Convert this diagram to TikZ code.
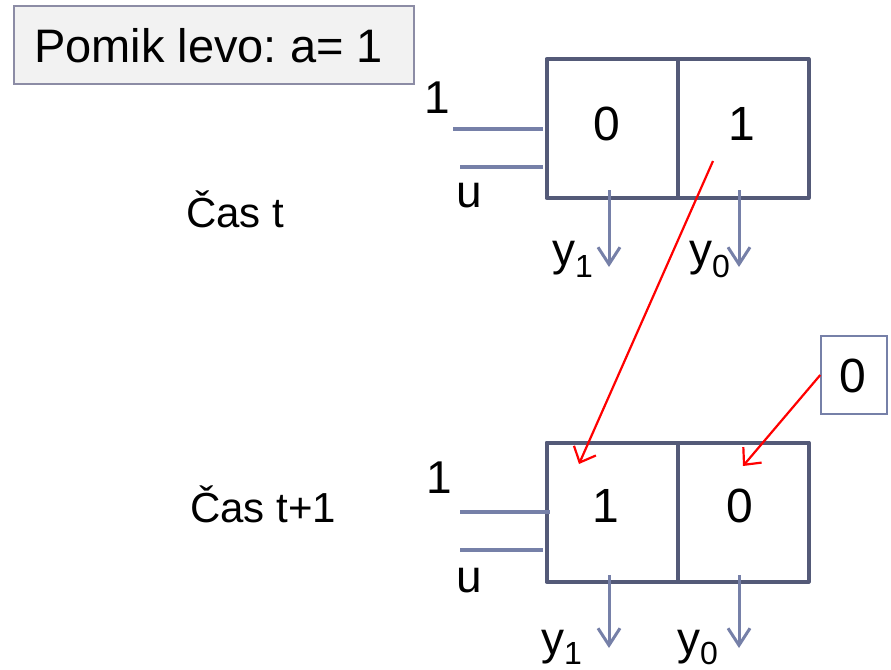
\documentclass[tikz,border=0pt]{standalone}
\usepackage{fontspec}
\setmainfont{Liberation Sans}
\usetikzlibrary{arrows.meta}
\frenchspacing
\definecolor{regc}{RGB}{84,90,120}
\definecolor{wirec}{RGB}{118,128,168}
\definecolor{titleb}{RGB}{140,140,165}
\definecolor{titlef}{RGB}{242,242,242}
\newcommand{\bigtxt}{\fontsize{46}{50}\selectfont}
\newcommand{\celltxt}{\fontsize{48}{52}\selectfont}
\newcommand{\subtxt}{\fontsize{32}{32}\selectfont}
\begin{document}
\begin{tikzpicture}[x=1pt,y=-1pt,
  txt/.style={inner sep=0pt, anchor=base west, font=\bigtxt},
  ctxt/.style={inner sep=0pt, anchor=base, font=\celltxt},
  cell/.style={draw=regc, line width=4pt, line join=round, minimum width=131pt, minimum height=139pt, inner sep=0pt},
  wire/.style={draw=wirec, line width=3.5pt},
  outarr/.style={draw=wirec, line width=3pt, -{Straight Barb[length=17pt,width=22pt,line width=3pt]}},
  redarr/.style={draw=red, line width=2.2pt, -{Straight Barb[length=13pt,width=24pt,line width=2.2pt]}}]
\useasboundingbox (0,0) rectangle (891,669);
% title
\node[draw=titleb, fill=titlef, line width=1.5pt, minimum width=400pt, minimum height=78pt, inner sep=0pt] (title) at (214,45) {};
\node[txt, font=\fontsize{47}{50}\selectfont] (titletxt) at (34,63) {Pomik levo: a= 1};
% labels
\node[txt, font=\fontsize{42}{46}\selectfont] (cast) at (186,227) {Čas t};
\node[txt, font=\fontsize{42}{46}\selectfont] (cast1) at (190,522) {Čas t+1};
% top register
\node[cell] (ta) at (612,128.5) {};
\node[cell] (tb) at (743,128.5) {};
\node[ctxt] (tav) at (607,140) {0};
\node[ctxt] (tbv) at (742,140) {1};
\node[txt] (tone) at (424,113) {1};
\node[txt] (tu) at (456,207) {u};
\coordinate (ti1s) at (453,129); \coordinate (ti1e) at (543,129);
\coordinate (ti2s) at (460,167); \coordinate (ti2e) at (543,167);
\draw[wire] (ti1s) -- (ti1e);
\draw[wire] (ti2s) -- (ti2e);
\coordinate (to1s) at (609,190); \coordinate (to1e) at (609,267);
\coordinate (to0s) at (739,190); \coordinate (to0e) at (739,267);
\draw[outarr] (to1s) -- (to1e);
\draw[outarr] (to0s) -- (to0e);
\node[txt] (ty1) at (552,265) {y\raisebox{-12pt}{\subtxt 1}};
\node[txt] (ty0) at (689,265) {y\raisebox{-12pt}{\subtxt 0}};
% bottom register
\node[cell] (ba) at (612,512) {};
\node[cell] (bb) at (743,512) {};
\node[ctxt] (bav) at (606,522) {1};
\node[ctxt] (bbv) at (740,522) {0};
\node[txt] (bone) at (426,493) {1};
\node[txt] (bu) at (456,592) {u};
\coordinate (bi1s) at (460,512); \coordinate (bi1e) at (550,512);
\coordinate (bi2s) at (460,550); \coordinate (bi2e) at (543,550);
\draw[wire] (bi1s) -- (bi1e);
\draw[wire] (bi2s) -- (bi2e);
\coordinate (bo1s) at (609,575); \coordinate (bo1e) at (609,648);
\coordinate (bo0s) at (739,575); \coordinate (bo0e) at (739,648);
\draw[outarr] (bo1s) -- (bo1e);
\draw[outarr] (bo0s) -- (bo0e);
\node[txt] (by1) at (541,654) {y\raisebox{-10pt}{\subtxt 1}};
\node[txt] (by0) at (677,654) {y\raisebox{-10pt}{\subtxt 0}};
% new bit box
\node[draw=wirec, line width=1.5pt, minimum width=66pt, minimum height=78pt, inner sep=0pt] (nb) at (854,375) {};
\node[ctxt] (nbv) at (853,392) {0};
% red arrows
\coordinate (r1s) at (713,161); \coordinate (r1e) at (579,464);
\draw[redarr] (r1s) -- (r1e);
\coordinate (r2e) at (743,466);
\draw[redarr] (nb.west) -- (r2e);
\end{tikzpicture}
\end{document}
